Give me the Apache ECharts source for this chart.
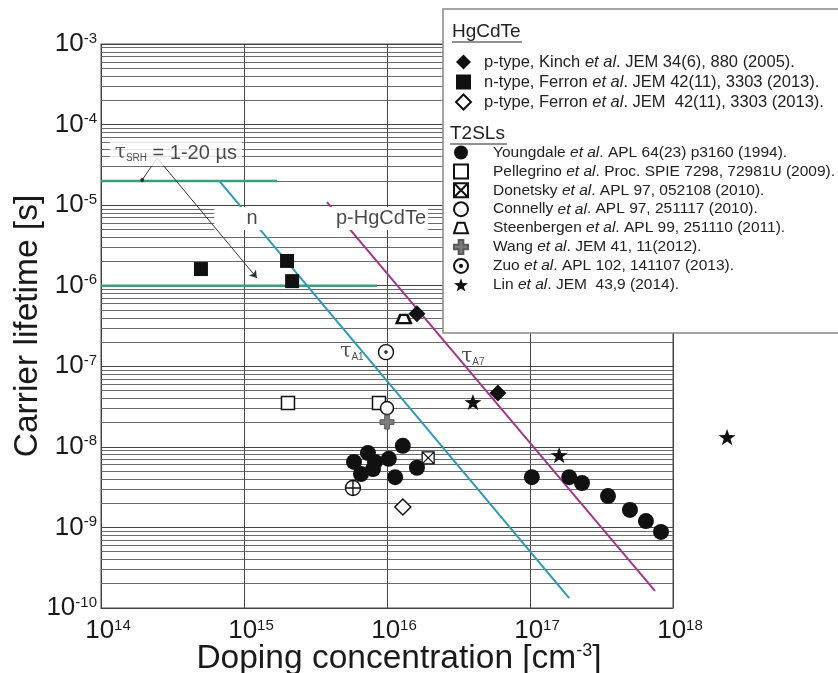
<!DOCTYPE html>
<html>
<head>
<meta charset="utf-8">
<script src="https://cdn.jsdelivr.net/npm/echarts@6/dist/echarts.min.js"></script>
<style>html,body{margin:0;background:#fff}#app{width:838px;height:673px}</style>
</head>
<body>
<div id="app"></div>
<script>
// HgCdTe  [doping cm^-3, lifetime s]
var kinchP = [[1.62e16, 4.5e-7], [5.97e16, 4.66e-8]];
var ferronN = [[5.0e14, 1.61e-6], [2.0e15, 2.03e-6], [2.17e15, 1.14e-6]];
var ferronP = [[1.29e16, 1.79e-9]];
// T2SLs
var youngdale = [[5.88e15, 6.5e-9], [7.36e15, 8.4e-9], [6.58e15, 4.6e-9], [8.24e15, 6.5e-9], [7.98e15, 5.3e-9],
    [1.03e16, 7.1e-9], [1.29e16, 1.03e-8], [1.14e16, 4.2e-9], [1.62e16, 5.5e-9], [1.03e17, 4.2e-9],
    [1.88e17, 4.2e-9], [2.31e17, 3.56e-9], [3.51e17, 2.45e-9], [5.0e17, 1.65e-9], [6.47e17, 1.2e-9], [8.24e17, 8.8e-10]];
var pellegrino = [[2.03e15, 3.5e-8], [8.79e15, 3.5e-8]];
var donetsky = [[1.94e16, 7.3e-9]];
var connelly = [[1.0e16, 3.03e-8]];
var steenbergen = [[1.31e16, 3.86e-7]];
var wang = [[1.0e16, 2.03e-8]];
var zuo = [[9.84e15, 1.5e-7]];
var lin = [[3.99e16, 3.6e-8], [1.6e17, 7.9e-9], [2.39e18, 1.32e-8]];
var unlabeled = [[5.78e15, 3.08e-9]];
// model lines
var tauA1 = [[6.8e14, 1.94e-5], [1.88e17, 1.33e-10]];
var tauA7 = [[3.8e15, 1.09e-5], [7.48e17, 1.63e-10]];
var srh20 = [[1e14, 2e-5], [1.7e15, 2e-5]];
var srh1 = [[1e14, 1e-6], [8.5e15, 1e-6]];
// annotation anchors
var srhLabelPos = [3.34e14, 4.43e-5];
var srhFrom = [2.47e14, 3.85e-5];
var srhTo20 = [1.94e14, 2.05e-5];
var srhTo1 = [1.23e15, 1.25e-6];
var nPos = [1.14e15, 6.92e-6];
var pPos = [9.08e15, 6.92e-6];
var a1Pos = [5.69e15, 1.5e-7];
var a7Pos = [3.99e16, 1.3e-7];
var boxCorners = [[6.2e14, 9.5e-6], [1.94e16, 4.9e-6]];
var xRange = [1e14, 1e18];
var yRange = [1e-10, 1e-3];

var legendText = {
    kinchP: 'p-type, Kinch {i|et al}. JEM 34(6), 880 (2005).',
    ferronN: 'n-type, Ferron {i|et al}. JEM 42(11), 3303 (2013).',
    ferronP: 'p-type, Ferron {i|et al}. JEM  42(11), 3303 (2013).',
    youngdale: 'Youngdale {i|et al}. APL 64(23) p3160 (1994).',
    pellegrino: 'Pellegrino {i|et al}. Proc. SPIE 7298, 72981U (2009).',
    donetsky: 'Donetsky {i|et al}. APL 97, 052108 (2010).',
    connelly: 'Connelly {i|et al}. APL 97, 251117 (2010).',
    steenbergen: 'Steenbergen {i|et al}. APL 99, 251110 (2011).',
    wang: 'Wang {i|et al}. JEM 41, 11(2012).',
    zuo: 'Zuo {i|et al}. APL 102, 141107 (2013).',
    lin: 'Lin {i|et al}. JEM  43,9 (2014).'
};

var BOXX = 'path://M0,0L10,0L10,10L0,10Z M0,0L10,10 M10,0L0,10';
var TRAP = 'path://M3,0L9,0L12,9L0,9Z';
var CROSS = 'path://M4,0L8,0L8,4L12,4L12,8L8,8L8,12L4,12L4,8L0,8L0,4L4,4Z';
var ZUO = 'path://M0,10A10,10 0 1,1 20,10A10,10 0 1,1 0,10Z M8.5,10A1.5,1.5 0 1,1 11.5,10A1.5,1.5 0 1,1 8.5,10Z';
var OPLUS = 'path://M0,10A10,10 0 1,1 20,10A10,10 0 1,1 0,10Z M10,0L10,20 M0,10L20,10';
var STAR = 'path://M10,0L12.35,6.76L19.51,6.91L13.8,11.24L15.88,18.09L10,14L4.12,18.09L6.2,11.24L0.49,6.91L7.65,6.76Z';

var FONT = 'Liberation Sans';
var INK = '#1a1a1a';

// log minor grid: 2..9 x 10^n
var minorLines = [];
for (var e = -10; e < -3; e++) {
    for (var m = 2; m <= 9; m++) {
        var v = m * Math.pow(10, e);
        minorLines.push([{ coord: [xRange[0], v] }, { coord: [xRange[1], v] }]);
    }
}

function pow10(v) {
    return '{b|10}{e|' + Math.round(Math.log10(v)) + '}';
}
var tickRich = {
    b: { fontSize: 26, fontFamily: FONT, color: INK },
    e: { fontSize: 15, fontFamily: FONT, color: INK, verticalAlign: 'top' }
};

function pts(name, data, symbol, size, style, extra) {
    style.opacity = 1;
    var s = {
        name: name, type: 'scatter', data: data, symbol: symbol, symbolSize: size,
        symbolKeepAspect: true, z: 6, itemStyle: style
    };
    for (var k in extra || {}) s[k] = extra[k];
    return s;
}
function filled() { return { color: '#111' }; }
function hollow() { return { color: '#fff', borderColor: '#111', borderWidth: 1.5 }; }

function note(pos, text, bg) {
    return { value: pos, label: { formatter: text, backgroundColor: bg ? '#fff' : 'transparent', padding: bg ? [3, 5] : 0 } };
}

function legendBlock(names, left, top, size, gap, font, pad) {
    return {
        data: names, orient: 'vertical', left: left, top: top, itemWidth: size, itemHeight: size, itemGap: gap,
        selectedMode: false, z: 70,
        formatter: function (n) { return legendText[n]; },
        textStyle: { fontSize: font, fontFamily: FONT, color: '#222', padding: [0, 0, 0, pad],
            rich: { i: { fontSize: font, fontFamily: FONT, fontStyle: 'italic', color: '#222' } } }
    };
}

var myChart = echarts.init(document.getElementById('app'));
var option = {
    animation: false,
    grid: { left: 101, right: 165, top: 44, bottom: 65, show: true, borderColor: '#888', borderWidth: 1.5,
            outerBoundsMode: 'none', containLabel: false },
    xAxis: {
        type: 'log', min: xRange[0], max: xRange[1], interval: 1,
        name: '{a|Doping concentration [cm}{s|-3}{a|]}',
        nameLocation: 'middle', nameGap: 34, nameMoveOverlap: false,
        nameTextStyle: {
            padding: [0, 0, 0, 24],
            rich: {
                a: { fontSize: 33.5, fontFamily: FONT, color: INK },
                s: { fontSize: 18, fontFamily: FONT, color: INK, verticalAlign: 'top' }
            }
        },
        axisLine: { show: false }, axisTick: { show: false },
        axisLabel: { formatter: pow10, rich: tickRich, margin: 10, padding: [0, 0, 0, 14] },
        splitLine: { show: true, lineStyle: { color: '#444', width: 1 } }
    },
    yAxis: {
        type: 'log', min: yRange[0], max: yRange[1], interval: 1,
        name: 'Carrier lifetime [s]', nameLocation: 'middle', nameGap: 56, nameMoveOverlap: false,
        nameTextStyle: { fontSize: 33.5, fontFamily: FONT, color: INK },
        axisLine: { show: false }, axisTick: { show: false },
        axisLabel: { formatter: pow10, rich: tickRich, margin: 4 },
        splitLine: { show: true, lineStyle: { color: '#444', width: 1 } }
    },
    legend: [
        legendBlock(['kinchP', 'ferronN', 'ferronP'], 450, 48.5, 15, 3, 16.5, 8),
        legendBlock(['youngdale', 'pellegrino', 'donetsky', 'connelly', 'steenbergen', 'wang', 'zuo', 'lin'],
            448, 139.5, 14, 2.9, 15.5, 20)
    ],
    graphic: [
        { type: 'rect', z: 50, shape: { x: 443, y: 9, width: 420, height: 324 },
          style: { fill: '#fff', stroke: '#888', lineWidth: 1.5 } },
        { type: 'text', z: 60, x: 452, y: 22, style: { text: 'HgCdTe', fontSize: 19, fontFamily: FONT, fill: '#222' } },
        { type: 'line', z: 60, shape: { x1: 452, y1: 42, x2: 522, y2: 42 }, style: { stroke: '#222', lineWidth: 1.2 } },
        { type: 'text', z: 60, x: 450, y: 124, style: { text: 'T2SLs', fontSize: 19, fontFamily: FONT, fill: '#222' } },
        { type: 'line', z: 60, shape: { x1: 450, y1: 144, x2: 507, y2: 144 }, style: { stroke: '#222', lineWidth: 1.2 } }
    ],
    series: [
        { name: 'srh20', type: 'line', data: srh20, showSymbol: false, z: 2, lineStyle: { color: '#3a9d7b', width: 2.5 },
          markLine: { silent: true, z: 1, symbol: 'none', label: { show: false }, animation: false,
                      lineStyle: { color: '#6a6a6a', width: 1, type: 'solid' }, data: minorLines } },
        { name: 'srh1', type: 'line', data: srh1, showSymbol: false, z: 2, lineStyle: { color: '#3a9d7b', width: 2.5 },
          markArea: { silent: true, z: 3, itemStyle: { color: '#fff', opacity: 1 },
                      data: [[{ coord: boxCorners[0] }, { coord: boxCorners[1] }]] } },
        { name: 'tauA1', type: 'line', data: tauA1, showSymbol: false, z: 2, lineStyle: { color: '#2b9ab8', width: 2 } },
        { name: 'tauA7', type: 'line', data: tauA7, showSymbol: false, z: 2, lineStyle: { color: '#a3348d', width: 2 },
          markLine: { silent: true, z: 4, label: { show: false }, lineStyle: { color: '#333', width: 1, type: 'solid' },
              data: [
                  [{ coord: srhFrom, symbol: 'none' }, { coord: srhTo20, symbol: 'circle', symbolSize: 4 }],
                  [{ coord: srhFrom, symbol: 'none' }, { coord: srhTo1, symbol: 'arrow', symbolSize: 7 }]
              ] } },
        pts('kinchP', kinchP, 'diamond', 17, filled()),
        pts('ferronN', ferronN, 'rect', 14, filled()),
        pts('ferronP', ferronP, 'diamond', 16, hollow()),
        pts('youngdale', youngdale, 'circle', 16, filled()),
        pts('pellegrino', pellegrino, 'rect', 13, hollow()),
        pts('donetsky', donetsky, BOXX, 12, { color: '#fff', borderColor: '#111', borderWidth: 1.3 }),
        pts('connelly', connelly, 'circle', 13, hollow()),
        pts('steenbergen', steenbergen, TRAP, [14, 11], { color: '#fff', borderColor: '#111', borderWidth: 2.5 }),
        pts('wang', wang, CROSS, 14, { color: '#7d7d7d', borderColor: '#5a5a5a', borderWidth: 1 }),
        pts('zuo', zuo, ZUO, 15, { color: '#fff', borderColor: '#111', borderWidth: 1.4 }),
        pts('lin', lin, STAR, 17, filled(), { clip: false }),
        pts('unlabeled', unlabeled, OPLUS, 15, { color: '#fff', borderColor: '#111', borderWidth: 1.4 }),
        { name: 'notes', type: 'scatter', z: 7, symbolSize: 1, itemStyle: { color: 'transparent' },
          label: { show: true, position: 'inside', color: INK,
              rich: {
                  t: { fontSize: 20, fontFamily: 'DejaVu Serif', color: '#222' },
                  s: { fontSize: 10, fontFamily: FONT, color: '#222', verticalAlign: 'bottom', padding: [10, 0, 0, 0] },
                  r: { fontSize: 20, fontFamily: FONT, color: INK }
              } },
          data: [
              note(srhLabelPos, '{t|τ}{s|SRH}{r| = 1-20 µs}', true),
              note(nPos, '{r|n}'),
              note(pPos, '{r|p-HgCdTe}'),
              note(a1Pos, '{t|τ}{s|A1}'),
              note(a7Pos, '{t|τ}{s|A7}')
          ] }
    ]
};
myChart.setOption(option);
</script>
</body>
</html>
